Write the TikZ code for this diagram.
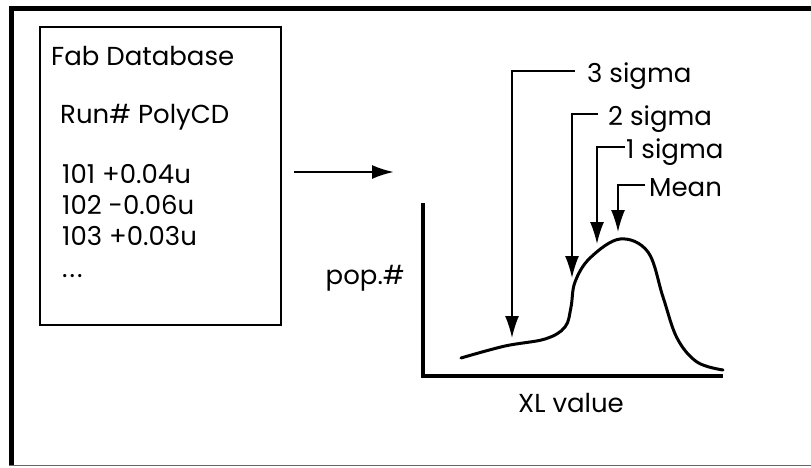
\documentclass[tikz,border=0pt]{standalone}
\usepackage{fontspec}
\setmainfont{Poppins}
\usepackage{tikz}
\usetikzlibrary{arrows.meta,positioning,calc}

\begin{document}
\begin{tikzpicture}[
    x=1pt, y=-1pt,
    >={Latex[length=22pt,width=14pt]},
    txt/.style={
        inner sep=0pt, anchor=base west,
        font=\fontsize{26}{30}\selectfont
    },
    tag/.style={
        txt, anchor=west, text height=22pt, text depth=0pt
    },
    frame/.style={
        line width=5pt, draw=black
    },
    flow/.style={
        ->, line width=2.4pt
    },
    callout/.style={
        ->, line width=1.6pt
    },
    axis/.style={
        line width=3.2pt
    },
    curve/.style={
        line width=3pt, line cap=round
    }
]
\useasboundingbox (0,0) rectangle (811,467);

% — outer frame —
\draw[frame] (9,8.5) -- (811,8.5);
\draw[frame] (11.5,6) -- (11.5,466);
\draw[line width=1.5pt, draw=black!60] (9,465.5) -- (811,465.5);

% — database box —
\node[draw, line width=2.2pt, minimum width=241pt, minimum height=298pt,
      inner sep=0pt] (db) at (160.5,176) {};
\node[txt] (title) at (51,65.7) {Fab Database};
\node[txt] (head)  at (60,123)  {Run\# PolyCD};
\node[txt] (row1)  at (62,183)  {101 +0.04u};
\node[txt] (row2)  at (62,214)  {102 -0.06u};
\node[txt] (row3)  at (62,245)  {103 +0.03u};
\node[txt] (dots)  at (62,277)  {.\hspace{2pt}.\hspace{2pt}.};

% — data flow —
\coordinate (src) at (294,172);
\coordinate (dst) at (394,172);
\draw[flow] (src) -- (dst);

% — distribution plot —
\coordinate (ytop)   at (423,203);
\coordinate (origin) at (423,376);
\coordinate (xend)   at (723,376);
\draw[axis] (ytop) -- (origin) -- (xend);
\node[txt, anchor=base east] (ylab) at (405,284) {pop.\#};
\node[txt, anchor=base] (xlab) at (571,412) {XL value};

\draw[curve] plot[smooth, tension=0.6] coordinates {
    (461,358) (505,346) (545,339) (565,327) (571,307)
    (575,282) (590,258) (620,239) (648,252) (663,297)
    (677,338) (697,362) (723,370)};

% points on the curve
\coordinate (c3) at (512,338);
\coordinate (c2) at (572,278);
\coordinate (c1) at (597,244);
\coordinate (cm) at (618,232);

% — sigma labels —
\node[tag] (l3) at (587,71)  {3 sigma};
\node[tag] (l2) at (608,114) {2 sigma};
\node[tag] (l1) at (626,147) {1 sigma};
\node[tag] (lm) at (649,185) {Mean};

\draw[callout] ([xshift=-12pt]l3.west) -| (c3);
\draw[callout] ([xshift=-10pt]l2.west) -| (c2);
\draw[callout] ([xshift=-1pt]l1.west)  -| (c1);
\draw[callout] ([xshift=-4pt]lm.west)  -| (cm);

\end{tikzpicture}
\end{document}
